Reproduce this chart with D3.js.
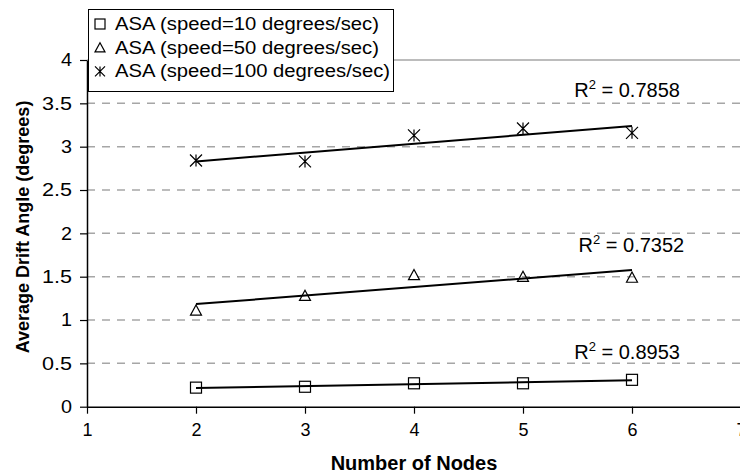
<!DOCTYPE html>
<html lang="en">
  <head>
    <meta charset="UTF-8" />
    <title>Average Drift Angle vs Number of Nodes</title>
    <script src="https://d3js.org/d3.v7.min.js"></script>
    <style>
      body { margin: 0; background: #fff; }
      text { font-family: Arial, 'Liberation Sans', sans-serif; fill: #000; }
    </style>
  </head>
  <body>
    <svg width="740" height="476"></svg>

    <script>
      // Data
      const nodes = [2, 3, 4, 5, 6];
      const seriesNames = [
        'ASA (speed=10 degrees/sec)',
        'ASA (speed=50 degrees/sec)',
        'ASA (speed=100 degrees/sec)',
      ];
      const speed10 = [0.22, 0.23, 0.27, 0.27, 0.31];
      const speed50 = [1.11, 1.28, 1.52, 1.5, 1.49];
      const speed100 = [2.84, 2.83, 3.13, 3.21, 3.16];
      const rSquared = ['0.8953', '0.7352', '0.7858'];
      // where the R² labels sit, in data units
      const labelX = [5.47, 5.51, 5.47];
      const labelY = [0.55, 1.79, 3.575];
      const xTicks = [1, 2, 3, 4, 5, 6, 7];
      const yTicks = [0, 0.5, 1, 1.5, 2, 2.5, 3, 3.5, 4];

      const allSeries = [speed10, speed50, speed100];
      const markers = ['square', 'triangle', 'star'];

      const svg = d3.select('svg');
      const x = d3.scaleLinear().domain([1, 7]).range([87, 741]);
      const y = d3.scaleLinear().domain([0, 4]).range([406.7, 60]);

      // Gridlines
      svg
        .append('g')
        .selectAll('line')
        .data(yTicks.filter((d) => d > 0))
        .enter()
        .append('line')
        .attr('x1', x(1))
        .attr('x2', 740)
        .attr('y1', (d) => y(d))
        .attr('y2', (d) => y(d))
        .attr('stroke', '#a6a6a6')
        .attr('stroke-width', 1.5)
        .attr('stroke-dasharray', (d) => (d === 4 ? null : '8,7'));

      // Axes
      const xAxis = svg
        .append('g')
        .attr('transform', `translate(0,${y(0)})`)
        .call(d3.axisBottom(x).tickValues(xTicks).tickSize(7).tickSizeOuter(0).tickPadding(10).tickFormat(d3.format('d')));
      const yAxis = svg
        .append('g')
        .attr('transform', `translate(${x(1)},0)`)
        .call(d3.axisLeft(y).tickValues(yTicks).tickSize(7).tickSizeOuter(0).tickPadding(8).tickFormat((d) => String(d)));

      [xAxis, yAxis].forEach((g) => {
        g.select('.domain').attr('stroke', '#000').attr('stroke-width', 1.5);
        g.selectAll('.tick line').attr('stroke', '#000').attr('stroke-width', 1.2);
        g.selectAll('.tick text')
          .attr('font-size', 18)
          .attr('font-family', 'Arial, Liberation Sans, sans-serif')
          .attr('fill', '#000');
      });
      // reference digits are set a little wider than plain Arial
      yAxis.selectAll('.tick text').each(function () {
        const t = d3.select(this);
        const n = t.text().length;
        t.attr('textLength', n === 1 ? 11 : 30).attr('lengthAdjust', 'spacingAndGlyphs');
      });

      // Least-squares trendlines
      function fit(vals) {
        const mx = d3.mean(nodes);
        const my = d3.mean(vals);
        const b = d3.sum(nodes, (n, i) => (n - mx) * (vals[i] - my)) / d3.sum(nodes, (n) => (n - mx) ** 2);
        return (n) => my + b * (n - mx);
      }

      allSeries.forEach((vals) => {
        const f = fit(vals);
        svg
          .append('line')
          .attr('x1', x(nodes[0]))
          .attr('y1', y(f(nodes[0])))
          .attr('x2', x(nodes[nodes.length - 1]))
          .attr('y2', y(f(nodes[nodes.length - 1])))
          .attr('stroke', '#000')
          .attr('stroke-width', 2);
      });

      // Marker drawing
      function drawMarker(g, type, cx, cy, s) {
        const h = s / 2;
        if (type === 'square') {
          g.append('rect')
            .attr('x', cx - h).attr('y', cy - h)
            .attr('width', s).attr('height', s)
            .attr('fill', 'none').attr('stroke', '#000').attr('stroke-width', 1.2);
        } else if (type === 'triangle') {
          g.append('path')
            .attr('d', `M${cx},${cy - h}L${cx + h},${cy + h * 0.85}L${cx - h},${cy + h * 0.85}Z`)
            .attr('fill', 'none').attr('stroke', '#000').attr('stroke-width', 1.2);
        } else {
          g.append('path')
            .attr('d', `M${cx - h},${cy - h}L${cx + h},${cy + h}M${cx + h},${cy - h}L${cx - h},${cy + h}M${cx},${cy - h}L${cx},${cy + h}`)
            .attr('fill', 'none').attr('stroke', '#000').attr('stroke-width', 1.2);
        }
      }

      allSeries.forEach((vals, si) => {
        const g = svg.append('g');
        vals.forEach((v, i) => drawMarker(g, markers[si], x(nodes[i]), y(v), si === 2 ? 12 : 11));
      });

      // R² labels
      rSquared.forEach((r, i) => {
        const t = svg
          .append('text')
          .attr('x', x(labelX[i]))
          .attr('y', y(labelY[i]))
          .attr('font-size', 20);
        t.append('tspan').text('R');
        t.append('tspan').attr('font-size', 13).attr('dy', -8).text('2');
        t.append('tspan').attr('dy', 8).text(' = ' + r);
      });

      // Legend
      const legend = svg.append('g');
      legend
        .append('rect')
        .attr('x', 88.5).attr('y', 9.5)
        .attr('width', 305).attr('height', 82)
        .attr('fill', '#fff').attr('stroke', '#000').attr('stroke-width', 1);
      const legendWidths = [264, 264, 275];
      seriesNames.forEach((name, i) => {
        const cy = 24 + i * 23.7;
        drawMarker(legend, markers[i], 100, cy, 10);
        legend
          .append('text')
          .attr('x', 115)
          .attr('y', cy + 6)
          .attr('font-size', 18)
          .attr('textLength', legendWidths[i])
          .attr('lengthAdjust', 'spacingAndGlyphs')
          .text(name);
      });

      // Axis titles
      svg
        .append('text')
        .attr('x', 414)
        .attr('y', 470)
        .attr('text-anchor', 'middle')
        .attr('font-size', 20)
        .attr('font-weight', 'bold')
        .text('Number of Nodes');
      svg
        .append('text')
        .attr('transform', 'translate(29,227) rotate(-90)')
        .attr('text-anchor', 'middle')
        .attr('font-size', 18)
        .attr('font-weight', 'bold')
        .text('Average Drift Angle (degrees)');
    </script>
  </body>
</html>
